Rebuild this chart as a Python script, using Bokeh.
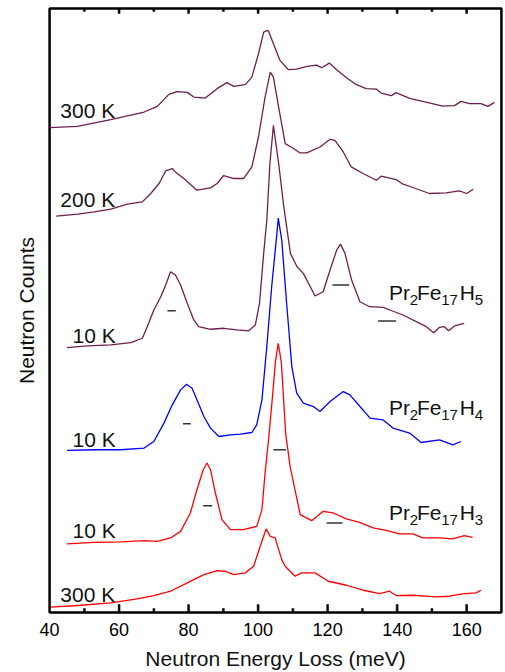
import numpy as np
from bokeh.plotting import figure
from bokeh.models import FixedTicker, Label
from bokeh.embed import file_html
from bokeh.resources import INLINE

FONT = "Liberation Sans"

# ---------------- data (energy in meV, counts in arbitrary units above each spectrum's offset)
e_h5_300 = [40.0, 48.0, 57.6, 67.2, 71.0, 74.3, 76.7, 79.6, 81.5, 84.8, 88.2, 91.0, 93.0, 96.3, 98.2,
            100.1, 101.6, 102.7, 103.0, 104.4, 106.3, 108.7, 111.1, 114.0, 116.8, 118.3, 120.5, 122.6,
            125.4, 128.3, 131.1, 134.0, 135.4, 138.3, 139.7, 143.6, 148.3, 153.1, 156.5, 158.4, 160.8,
            164.1, 166.1, 168.0]
c_h5_300 = [5.7, 7, 13.7, 21.3, 27, 39, 41.7, 41, 36.3, 35.3, 44.7, 50.7, 47, 48.7, 56.3,
            79.7, 101.3, 103, 102.3, 89.7, 73, 63.7, 64.3, 67, 68.3, 65.7, 70.3, 63.7,
            55.7, 48.7, 44.7, 44.3, 40.3, 37.7, 40.7, 35, 31.3, 27.3, 27.7, 32, 29.7,
            29.7, 27, 31]

e_h5_200 = [41.9, 48.1, 52.8, 57.6, 62.4, 66.7, 69.1, 71.5, 73.4, 75.3, 76.2, 78.6, 82.4, 86.3, 88.2,
            90.1, 93.0, 95.8, 98.2, 100.1, 102.0, 103.5, 104.4, 105.9, 107.8, 109.7, 112.1, 114.0,
            117.8, 120.7, 122.1, 124.5, 126.8, 130.2, 134.0, 135.4, 139.7, 141.7, 144.5, 149.3,
            154.1, 157.9, 160.0, 161.9]
c_h5_200 = [2, 4, 6.3, 9, 14, 16.3, 24.7, 34.7, 47.3, 49.7, 46.3, 39.7, 28, 30.3, 34.7,
            42.7, 39.7, 39.7, 51.3, 81.3, 121.3, 146.3, 141.3, 111.3, 74.7, 70.7, 65.3, 65.3,
            71.3, 79, 78, 66.3, 51.3, 44.7, 38, 42, 38.7, 34, 30.7, 24.7,
            25.3, 27.3, 24.7, 29]

e_h5_10 = [45.0, 50.9, 57.6, 63.4, 66.7, 68.1, 70.0, 72.0, 73.4, 74.8, 76.2, 77.7, 79.6, 81.5, 82.9,
           86.3, 90.1, 93.9, 97.2, 99.2, 100.4, 101.6, 102.5, 103.4, 104.4, 105.9, 107.4, 109.3,
           111.2, 113.0, 116.4, 118.7, 120.7, 122.6, 123.7, 125.0, 126.9, 129.3, 132.1, 136.0,
           137.9, 141.7, 145.5, 148.4, 150.5, 152.2, 153.6, 154.8, 156.5, 159.3]
c_h5_10 = [3.3, 5, 6, 8.3, 12.7, 24.3, 41, 54.3, 66, 79.3, 76, 66, 47.7, 31, 24.3,
           21.7, 22.7, 21, 20, 26, 47.7, 97.7, 131, 188, 226, 188, 144, 97.7,
           84.3, 77.7, 55, 59.3, 81, 101, 107, 97.7, 71, 49.3, 44.3, 43.7,
           41, 36, 29.3, 24.3, 18.3, 23.7, 24.3, 20.3, 25, 27.7]

e_h4_10 = [45.0, 52.8, 60.5, 67.2, 70.0, 72.9, 75.3, 77.7, 79.4, 81.0, 82.4, 84.4, 86.3, 88.7, 92.0,
           94.9, 98.2, 99.6, 101.1, 102.5, 103.9, 105.4, 105.8, 106.8, 108.2, 109.7, 111.1, 113.0,
           115.9, 117.8, 120.7, 124.5, 126.4, 129.3, 132.2, 135.9, 138.8, 143.6, 146.9, 152.2,
           156.0, 158.4]
c_h4_10 = [2.3, 3, 3, 4.7, 11.3, 29.7, 48, 63, 68.7, 64.7, 53, 36.3, 24.7, 16.3, 18,
           18.7, 20.3, 28, 53, 106.3, 166.3, 219.7, 235, 213, 149.7, 86.3, 59.7, 49.7,
           46.3, 41.3, 51.3, 61.3, 58, 46.3, 34.7, 33, 24.7, 19.7, 10.3, 13,
           8, 11.3]

e_h3_10 = [45.0, 52.8, 60.5, 67.2, 71.0, 74.8, 77.7, 80.5, 82.4, 84.2, 85.3, 86.3, 87.7, 89.6, 92.0,
           95.8, 99.6, 101.1, 102.0, 103.0, 104.1, 105.0, 105.8, 106.7, 107.9, 109.2, 110.6, 112.1,
           115.4, 118.7, 121.6, 125.4, 129.2, 133.1, 136.9, 140.7, 144.5, 147.4, 152.2, 156.0,
           159.3, 161.7]
c_h3_10 = [2.7, 4.3, 4.7, 6, 5.3, 8.7, 15.3, 33.7, 57, 77, 83.7, 77, 53.7, 27, 17,
           17, 20.3, 37, 73.7, 107, 149, 186, 203.7, 184, 114, 80.3, 57, 32,
           26, 35.3, 33.7, 27.7, 24.3, 18.7, 16.3, 12.7, 12.7, 8.7, 8.7, 7.7,
           11, 9.3]

e_h3_300 = [40.4, 48.1, 57.6, 65.2, 70.0, 74.8, 79.6, 84.4, 88.2, 90.6, 93.0, 96.3, 98.7, 100.6,
            102.3, 103.5, 104.9, 106.8, 107.8, 110.6, 112.5, 116.4, 120.2, 125.4, 130.2, 135.0,
            137.8, 139.7, 144.5, 151.2, 155.0, 158.8, 162.7, 164.1]
c_h3_300 = [2.3, 4, 6.7, 10.7, 14, 18.3, 26.7, 35, 39, 38.3, 35, 36.7, 43.3, 63.3,
            80.7, 73.3, 71.7, 50, 43.3, 33.3, 36.7, 36.7, 28.3, 24.3, 19.3, 16,
            18.3, 14, 14.3, 12.7, 13.3, 15.7, 16.7, 19.3]

# stacked spectra (top to bottom): label, energies, counts, vertical offset, colour
spectra = [
    ("300 K", e_h5_300, c_h5_300, 480, "#6e1f4e"),
    ("200 K", e_h5_200, c_h5_200, 395, "#6e1f4e"),
    ("10 K",  e_h5_10,  c_h5_10,  262, "#6e1f4e"),
    ("10 K",  e_h4_10,  c_h4_10,  160, "#0000ff"),
    ("10 K",  e_h3_10,  c_h3_10,  66,  "#ff0000"),
    ("300 K", e_h3_300, c_h3_300, 3,   "#ff0000"),
]

# resolution bars: centre (meV), width (meV), level (counts), spectrum offset
res_center = [75.1, 123.8, 137.1, 79.5, 106.2, 85.5, 122.0]
res_width = [2.4, 4.8, 5.2, 2.2, 3.6, 2.6, 4.6]
res_level = [40.3, 66, 30, 29, 97, 41, 23.7]
res_offset = [262, 262, 262, 160, 66, 66, 66]

x_ticks = [40, 60, 80, 100, 120, 140, 160]
x_minor = [50, 70, 90, 110, 130, 150]

X0, X1 = 40, 170
Y0, Y1 = 0, 605
PADX, PADY = 0.6, 2.0

# ---------------- figure
p = figure(width=505, height=672, x_range=(X0 - PADX, X1 + PADX), y_range=(Y0 - PADY, Y1 + PADY),
           output_backend="svg", toolbar_location=None,
           min_border_left=47, min_border_right=2, min_border_top=6, min_border_bottom=57)
p.background_fill_color = "white"
p.border_fill_color = "white"
p.grid.visible = False
p.outline_line_color = None

# plot box
p.quad(left=[X0], right=[X1], bottom=[Y0], top=[Y1], fill_color=None,
       line_color="black", line_width=2.5)

for name, e, c, off, col in spectra:
    p.line(e, np.array(c) + off, line_color=col, line_width=1.3)

rc = np.array(res_center)
rw = np.array(res_width)
ry = np.array(res_level) + np.array(res_offset)
p.segment(x0=rc - rw / 2, y0=ry, x1=rc + rw / 2, y1=ry, line_color="#333333", line_width=1.6)

# inward tick marks as thin filled bars: bottom (major 8, minor 4), top (major 5, minor 3)
TW = 0.28  # half width in meV (about 1 px)
t_left, t_right, t_bottom, t_top = [], [], [], []
for xs, y_from, length in [(x_ticks[1:], Y0, 8), (x_minor, Y0, 4), (x_ticks[1:], Y1, -5), (x_minor, Y1, -3)]:
    for t in xs:
        t_left.append(t - TW)
        t_right.append(t + TW)
        t_bottom.append(min(y_from, y_from + length))
        t_top.append(max(y_from, y_from + length))
p.quad(left=t_left, right=t_right, bottom=t_bottom, top=t_top,
       fill_color="black", line_color="black", line_width=0.5)

xa = p.xaxis[0]
xa.ticker = FixedTicker(ticks=x_ticks, minor_ticks=x_minor)
xa.major_tick_in = 0
xa.major_tick_out = 0
xa.minor_tick_in = 0
xa.minor_tick_out = 0
xa.major_tick_line_color = None
xa.minor_tick_line_color = None
xa.axis_line_color = None
xa.major_label_text_font = FONT
xa.major_label_text_font_size = "18px"
xa.major_label_text_color = "black"
xa.major_label_standoff = 8
xa.axis_label = "Neutron Energy Loss (meV)"
xa.axis_label_text_font = FONT
xa.axis_label_text_font_size = "21px"
xa.axis_label_text_font_style = "normal"
xa.axis_label_text_color = "#111111"
xa.axis_label_standoff = 8

ya = p.yaxis[0]
ya.ticker = FixedTicker(ticks=[])
ya.axis_line_color = None
ya.major_tick_out = 0
ya.major_tick_in = 0
ya.axis_label = "Neutron Counts"
ya.axis_label_text_font = FONT
ya.axis_label_text_font_size = "21px"
ya.axis_label_text_font_style = "normal"
ya.axis_label_text_color = "#111111"
ya.axis_label_standoff = 10

# temperature labels
temp_x = [43.1, 43.1, 46.6, 46.6, 46.6, 43.1]
temp_y = [503, 413.7, 277.3, 173, 82.3, 18]
for (name, *_), tx, ty in zip(spectra, temp_x, temp_y):
    p.add_layout(Label(x=tx, y=ty, text=name, text_font=FONT, text_font_size="21px",
                       text_color="#111111", text_baseline="alphabetic"))

# compound labels with subscripts
compounds = [("5", 320.3), ("4", 205.3), ("3", 99.7)]
cx = 137.65
pieces = [("Pr", 0, False), ("2", 20.7, True), ("Fe", 28, False), ("17", 52.3, True),
          ("H", 70.7, False)]
for hn, cy in compounds:
    for txt, dx, sub in pieces + [(hn, 85.7, True)]:
        p.add_layout(Label(x=cx, y=cy, x_offset=dx, y_offset=-7 if sub else 0, text=txt,
                           text_font=FONT, text_font_size="15px" if sub else "21px",
                           text_color="#111111", text_baseline="alphabetic"))

open("out.html", "w").write(file_html(p, INLINE))
